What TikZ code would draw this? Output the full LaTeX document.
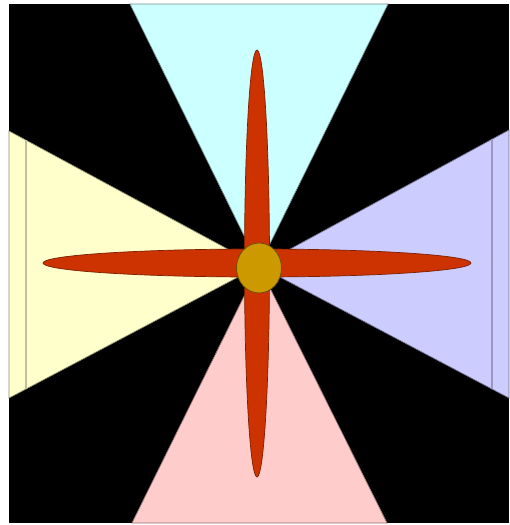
\documentclass[tikz,border=0pt]{standalone}
\usepackage{xcolor}
\usetikzlibrary{calc}
\definecolor{beamcyan}{HTML}{CCFFFF}
\definecolor{beamyellow}{HTML}{FFFFCC}
\definecolor{beamlilac}{HTML}{CCCCFF}
\definecolor{beampink}{HTML}{FFCCCC}
\definecolor{petalred}{HTML}{CC3300}
\definecolor{hubgold}{HTML}{CC9900}

\begin{document}
\begin{tikzpicture}[
      x=0.02cm, y=-0.02cm,
      beam/.style={draw=#1!55!black, line width=0.4pt, fill=#1},
      rim/.style={draw=#1!75!black, line width=0.9pt},
      petal/.style={draw=petalred!60!black, line width=0.4pt, fill=petalred},
      hub/.style={draw=hubgold!50!black, line width=0.4pt, fill=hubgold}
  ]
    \useasboundingbox (0,0) rectangle (510,525);
    \fill[white] (0,0) rectangle (510,525);
    \fill[black] (9,4) rectangle (509,523);
    \coordinate (core) at (259,266);
    % the four light beams
    \path[beam=beamcyan] (130,4) -- (388,4) -- (core) -- cycle;
    \path[beam=beamyellow] (9,131) -- (9,398) -- (core) -- cycle;
    \path[beam=beamlilac] (509,130) -- (509,398) -- (core) -- cycle;
    \path[beam=beampink] (132,523) -- (387,523) -- (core) -- cycle;
    \draw[rim=beamyellow] (26,140) -- (26,389);
    \draw[rim=beamlilac] (492,139) -- (492,389);
    % petals and hub
    \path[petal] (257,263) ellipse [x radius=214, y radius=14];
    \path[petal] (257,263.5) ellipse [x radius=12.5, y radius=213.5];
    \path[hub] (259,268) ellipse [x radius=22.5, y radius=25];
  \end{tikzpicture}
\end{document}
